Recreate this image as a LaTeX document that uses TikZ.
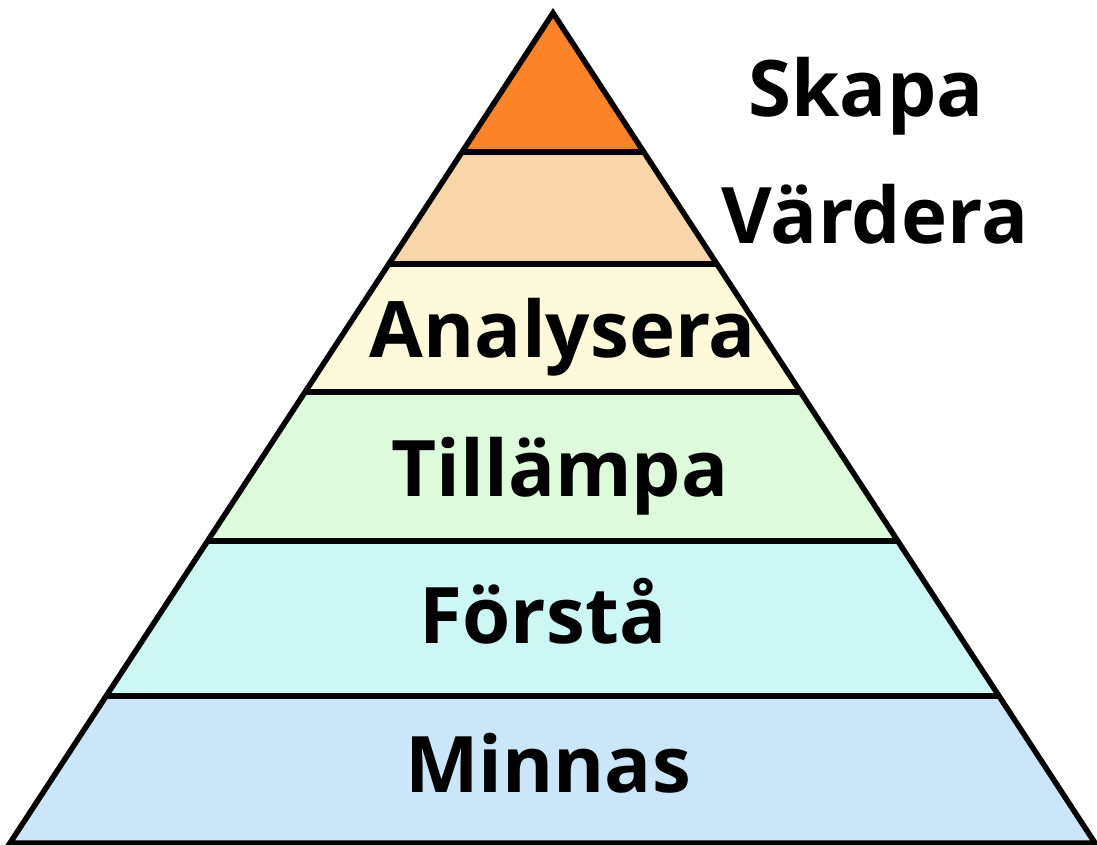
\documentclass[tikz,border=0pt]{standalone}
\usepackage{fontspec}
\setmainfont{Open Sans}
\usetikzlibrary{calc}

\definecolor{skapacol}{HTML}{FD8328}
\definecolor{vardcol}{HTML}{F8D6AA}
\definecolor{analcol}{HTML}{FCFADB}
\definecolor{tillcol}{HTML}{DDFADA}
\definecolor{forscol}{HTML}{CCF7F4}
\definecolor{minncol}{HTML}{CBE5F9}

\tikzset{
    level/.style={draw=black, line width=5.5pt, line join=miter},
    word/.style={font=\fontsize{78}{94}\selectfont\bfseries, inner sep=0pt, anchor=base}
}

\begin{document}
\begin{tikzpicture}[x=1pt, y=-1pt]
        \useasboundingbox (0,0) rectangle (1097,844);

        \coordinate (T) at (553,13);
        \coordinate (L1) at (462.1,152);  \coordinate (R1) at (643.8,152);
        \coordinate (L2) at (388.8,264);  \coordinate (R2) at (716.9,264);
        \coordinate (L3) at (305.1,392);  \coordinate (R3) at (800.5,392);
        \coordinate (L4) at (207.6,541);  \coordinate (R4) at (897.8,541);
        \coordinate (L5) at (106.2,696);  \coordinate (R5) at (999.0,696);
        \coordinate (L6) at (10,843);     \coordinate (R6) at (1095,843);

        \fill[skapacol] (T) -- (R1) -- (L1) -- cycle;
        \fill[vardcol] (L1) -- (R1) -- (R2) -- (L2) -- cycle;
        \fill[analcol] (L2) -- (R2) -- (R3) -- (L3) -- cycle;
        \fill[tillcol] (L3) -- (R3) -- (R4) -- (L4) -- cycle;
        \fill[forscol] (L4) -- (R4) -- (R5) -- (L5) -- cycle;
        \fill[minncol] (L5) -- (R5) -- (R6) -- (L6) -- cycle;

        \draw[level] (T) -- (R6) -- (L6) -- cycle;
        \draw[level] (L1) -- (R1);
        \draw[level] (L2) -- (R2);
        \draw[level] (L3) -- (R3);
        \draw[level] (L4) -- (R4);
        \draw[level] (L5) -- (R5);

        \node[word] (skapa) at (866,116) {Skapa};
        \node[word] (vardera) at (875,243) {Värdera};
        \node[word] (analysera) at (563,357) {Analysera};
        \node[word] (tillampa) at (560,496) {Tillämpa};
        \node[word] (forsta) at (543,643) {Förstå};
        \node[word] (minnas) at (548,792) {Minnas};
    \end{tikzpicture}
\end{document}
